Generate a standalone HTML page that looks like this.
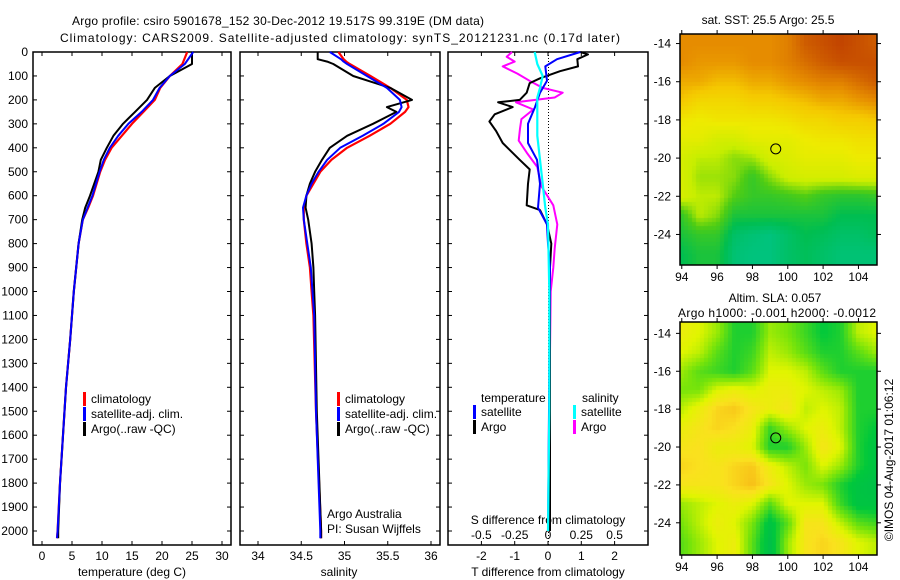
<!DOCTYPE html>
<html><head><meta charset="utf-8">
<style>
html,body{margin:0;padding:0;background:#fff;}
#root{position:relative;width:900px;height:580px;overflow:hidden;font-family:"Liberation Sans",Arial,sans-serif;}
svg text{font-family:"Liberation Sans",Arial,sans-serif;font-size:12px;fill:#000;}
canvas{position:absolute;}
</style></head>
<body>
<div id="root">
<canvas id="sstMap" width="197" height="231" style="left:680px;top:34px;"></canvas>
<canvas id="slaMap" width="197" height="233" style="left:680px;top:322px;"></canvas>
<svg id="fig" width="900" height="580" style="position:absolute;left:0;top:0">
<text x="72" y="25" textLength="412" lengthAdjust="spacing">Argo profile: csiro 5901678_152 30-Dec-2012 19.517S 99.319E (DM data)</text>
<text x="60" y="42" textLength="560" lengthAdjust="spacing">Climatology: CARS2009. Satellite-adjusted climatology: synTS_20121231.nc (0.17d later)</text>
<text x="768" y="24" text-anchor="middle">sat. SST: 25.5 Argo: 25.5</text>
<text x="775" y="302" text-anchor="middle">Altim. SLA: 0.057</text>
<text x="678" y="317" textLength="198" lengthAdjust="spacing">Argo h1000: -0.001 h2000: -0.0012</text>
<text transform="translate(893,460) rotate(-90)" text-anchor="middle">©IMOS 04-Aug-2017 01:06:12</text>
<text x="327" y="518">Argo Australia</text>
<text x="327" y="533">PI: Susan Wijffels</text>
<text x="548" y="524" text-anchor="middle">S difference from climatology</text>
<text x="132" y="576" text-anchor="middle">temperature (deg C)</text>
<text x="339" y="576" text-anchor="middle">salinity</text>
<text x="548" y="576" text-anchor="middle">T difference from climatology</text>
</svg>
</div>
<script>
// ---- data ----
const depthTicks=[0,100,200,300,400,500,600,700,800,900,1000,1100,1200,1300,1400,1500,1600,1700,1800,1900,2000];
const tempTicks=[0,5,10,15,20,25,30];
const salTicks=[34,34.5,35,35.5,36];
const salTickLabels=["34","34.5","35","35.5","36"];
const tdTicks=[-2,-1,0,1,2];
const sdTicks=[-0.5,-0.25,0,0.25,0.5];
const sdTickLabels=["-0.5","-0.25","0","0.25","0.5"];

const tDepth=[0,50,100,150,200,250,300,350,400,450,500,600,650,700,800,900,1000,1100,1200,1400,1600,1800,2000,2030];
const tClim=[24.2,23.4,21.3,19.7,18.8,16.9,15,13.3,11.6,10.5,9.7,8.5,7.7,6.8,6.1,5.7,5.3,5,4.7,4.0,3.5,3.0,2.6,2.5];
const tSat=[25.2,23.8,21.3,19.6,18.5,16.6,14.4,12.7,11.3,10.3,9.6,8.4,7.6,6.8,6.1,5.7,5.3,5,4.7,4.0,3.5,3.0,2.6,2.5];
const tArgo=[25,25,21.3,18.8,17.5,15.5,13.5,11.9,10.8,9.8,9.4,8,7.2,6.7,6.1,5.7,5.3,5,4.7,4.0,3.5,3.0,2.7,2.7];

const sDepth=[0,30,40,50,100,150,200,230,250,300,350,400,450,500,550,600,650,700,800,900,1000,1100,1500,2000,2030];
const sClim=[34.93,34.99,35.02,35.06,35.3,35.53,35.72,35.74,35.7,35.53,35.29,35.03,34.85,34.72,34.64,34.56,34.53,34.53,34.56,34.6,34.62,34.64,34.67,34.73,34.73];
const sSat=[34.83,34.96,34.99,35.03,35.26,35.49,35.64,35.66,35.63,35.45,35.21,34.95,34.8,34.7,34.62,34.56,34.52,34.53,34.57,34.61,34.63,34.65,34.67,34.72,34.72];
const sArgo=[34.69,34.69,34.8,34.87,35.1,35.53,35.78,35.49,35.6,35.33,35.03,34.83,34.74,34.66,34.6,34.56,34.55,34.58,34.62,34.64,34.65,34.66,34.68,34.73,34.73];

const dDepthT=[0,10,30,60,80,110,130,170,200,210,230,260,290,330,380,450,490,550,640,660,720,800,900,1500,2000];
const dTArgo=[0.97,1.2,0.88,0.9,0.36,-0.24,-0.55,-0.64,-0.85,-1.5,-1.06,-1.6,-1.76,-1.56,-1.36,-0.85,-0.55,-0.6,-0.64,-0.24,-0.03,0.1,0.06,0.06,0.06];
const dDepthTS=[0,30,60,120,170,230,300,380,450,550,650,720,800,900,1500,2000];
const dTSat=[0.97,0.27,-0.08,-0.03,-0.24,-0.39,-0.6,-0.6,-0.33,-0.24,-0.3,-0.03,0,0.06,0.03,0];
const dDepthS=[0,20,40,60,90,120,150,170,190,210,240,280,320,370,420,480,560,640,720,820,900,1000,1500,2000];
const dSArgo=[-0.27,-0.31,-0.25,-0.34,-0.23,-0.14,-0.04,0.11,0.05,-0.24,-0.11,-0.2,-0.21,-0.22,-0.16,-0.08,-0.05,0.04,0.07,0.05,0.04,0.02,0.01,0.01];
const dDepthSS=[0,50,100,150,190,250,350,450,550,650,720,1000,1500,2000];
const dSSat=[-0.1,-0.08,-0.04,-0.06,-0.08,-0.08,-0.08,-0.06,-0.04,-0.02,0,0.01,0.01,0.0];

const mapLons=[94,95,96,97,98,99,100,101,102,103,104,105];
const mapLats=[-14,-15,-16,-17,-18,-19,-20,-21,-22,-23,-24,-25];
const lonTicks=[94,96,98,100,102,104];
const latTicks=[-14,-16,-18,-20,-22,-24];
const sstGrid=[
[0.8,0.8,0.8,0.8,0.8,0.8,0.82,0.88,0.9,0.92,0.9,0.88],
[0.8,0.78,0.78,0.78,0.8,0.8,0.82,0.85,0.88,0.9,0.9,0.9],
[0.75,0.75,0.72,0.72,0.75,0.75,0.78,0.8,0.82,0.82,0.85,0.88],
[0.7,0.65,0.65,0.65,0.68,0.68,0.7,0.72,0.75,0.75,0.78,0.8],
[0.6,0.58,0.6,0.6,0.6,0.6,0.62,0.65,0.65,0.68,0.68,0.7],
[0.55,0.55,0.5,0.5,0.55,0.55,0.55,0.58,0.6,0.6,0.62,0.62],
[0.5,0.45,0.45,0.4,0.42,0.5,0.52,0.55,0.55,0.55,0.58,0.58],
[0.5,0.42,0.42,0.4,0.3,0.4,0.48,0.5,0.5,0.5,0.52,0.52],
[0.5,0.45,0.45,0.35,0.3,0.3,0.32,0.35,0.3,0.28,0.28,0.3],
[0.3,0.45,0.4,0.25,0.25,0.25,0.25,0.25,0.25,0.2,0.2,0.2],
[0.25,0.3,0.3,0.15,0.12,0.1,0.15,0.2,0.18,0.15,0.15,0.18],
[0.2,0.25,0.25,0.12,0.1,0.1,0.15,0.18,0.15,0.12,0.12,0.12]];
const slaGrid=[
[0.65,0.6,0.5,0.3,0.3,0.5,0.45,0.35,0.25,0.3,0.55,0.6],
[0.6,0.55,0.4,0.3,0.35,0.55,0.5,0.4,0.3,0.3,0.4,0.5],
[0.5,0.4,0.35,0.3,0.4,0.6,0.6,0.55,0.4,0.3,0.3,0.3],
[0.45,0.45,0.6,0.65,0.6,0.65,0.65,0.6,0.55,0.5,0.3,0.3],
[0.55,0.65,0.75,0.78,0.7,0.65,0.7,0.55,0.6,0.55,0.3,0.3],
[0.65,0.7,0.75,0.72,0.65,0.35,0.5,0.6,0.65,0.55,0.3,0.25],
[0.7,0.72,0.65,0.65,0.6,0.3,0.3,0.5,0.7,0.6,0.3,0.2],
[0.75,0.72,0.7,0.75,0.78,0.65,0.55,0.45,0.6,0.5,0.3,0.2],
[0.7,0.7,0.7,0.75,0.8,0.7,0.6,0.5,0.45,0.3,0.2,0.15],
[0.5,0.55,0.6,0.65,0.6,0.4,0.6,0.6,0.6,0.35,0.2,0.2],
[0.45,0.55,0.65,0.6,0.45,0.2,0.4,0.7,0.7,0.55,0.4,0.35],
[0.4,0.5,0.6,0.65,0.4,0.15,0.5,0.7,0.75,0.7,0.6,0.55]];
const floatLon=99.319, floatLat=-19.517;

// ---- drawing ----
const NS="http://www.w3.org/2000/svg";
const svg=document.getElementById('fig');
function el(tag,attrs,parent){const e=document.createElementNS(NS,tag);for(const k in attrs)e.setAttribute(k,attrs[k]);(parent||svg).appendChild(e);return e;}
const Y0=52,PY=0.2395,BOT=545;
const yD=d=>Y0+d*PY;
const panels=[
 {x0:33,x1:231,name:'temperature-panel',fx:v=>42+v*6},
 {x0:240,x1:440,name:'salinity-panel',fx:v=>258+(v-34)*86.5},
 {x0:448,x1:648,name:'difference-panel',fx:v=>548+v*33.3}
];
panels.forEach((p,i)=>{
 const r=el('rect',{x:p.x0,y:Y0,width:p.x1-p.x0,height:BOT-Y0,fill:'none',stroke:'#000','stroke-width':1.5});
 
 
 depthTicks.forEach(d=>{
  el('line',{x1:p.x0,x2:p.x0+4,y1:yD(d),y2:yD(d),stroke:'#000'});
  el('line',{x1:p.x1-4,x2:p.x1,y1:yD(d),y2:yD(d),stroke:'#000'});
 });
});
depthTicks.forEach(d=>{
 const t=el('text',{x:28,y:yD(d)+4,'text-anchor':'end'});t.textContent=d;
 
 
});
function xticks(p,ticks,labels,fx){
 ticks.forEach((v,i)=>{
  const x=fx(v);
  el('line',{x1:x,x2:x,y1:BOT,y2:BOT-4,stroke:'#000'});
  el('line',{x1:x,x2:x,y1:Y0,y2:Y0+4,stroke:'#000'});
  const t=el('text',{x:x,y:560,'text-anchor':'middle'});t.textContent=labels[i];
  
  
 });
}
xticks(panels[0],tempTicks,tempTicks.map(String),panels[0].fx);
xticks(panels[1],salTicks,salTickLabels,panels[1].fx);
xticks(panels[2],tdTicks,tdTicks.map(String),panels[2].fx);
sdTicks.forEach((v,i)=>{
 const x=548+v*4*33.3;
 const t=el('text',{x:x,y:539,'text-anchor':'middle'});t.textContent=sdTickLabels[i];
 
 
});
for(let y=Y0;y<BOT;y+=3) el('rect',{x:548,y:y,width:1,height:1,fill:'#000'});
function line(depths,vals,fx,color,w,name){
 const pts=depths.map((d,i)=>fx(vals[i]).toFixed(1)+','+yD(d).toFixed(1)).join(' ');
 const pl=el('polyline',{points:pts,fill:'none',stroke:color,'stroke-width':w,'stroke-linejoin':'round'});
 
 
}
const fT=panels[0].fx,fS=panels[1].fx,fD=panels[2].fx,fSD=v=>548+v*4*33.3;
line(tDepth,tClim,fT,'#f00',2.2,'temp-climatology-line');
line(tDepth,tArgo,fT,'#000',2,'temp-argo-line');
line(tDepth,tSat,fT,'#00f',2,'temp-satellite-line');
line(sDepth,sClim,fS,'#f00',2.2,'sal-climatology-line');
line(sDepth,sArgo,fS,'#000',2,'sal-argo-line');
line(sDepth,sSat,fS,'#00f',2,'sal-satellite-line');
line(dDepthS,dSArgo,fSD,'#f0f',2,'sdiff-argo-line');
line(dDepthT,dTArgo,fD,'#000',2,'tdiff-argo-line');
line(dDepthTS,dTSat,fD,'#00f',2,'tdiff-satellite-line');
line(dDepthSS,dSSat,fSD,'#0ff',2.2,'sdiff-satellite-line');
function legend(x,y,color,label){
 el('rect',{x:x,y:y-11,width:3,height:14,fill:color});
 const t=el('text',{x:x+8,y:y});t.textContent=label;
 
 
}
[[83,'#f00','climatology'],[83,'#00f','satellite-adj. clim.'],[83,'#000','Argo(..raw -QC)']].forEach((l,i)=>legend(l[0],403+i*15,l[1],l[2]));
[[337,'#f00','climatology'],[337,'#00f','satellite-adj. clim.'],[337,'#000','Argo(..raw -QC)']].forEach((l,i)=>legend(l[0],403+i*15,l[1],l[2]));
let tt=el('text',{x:481,y:402});tt.textContent='temperature';
tt=el('text',{x:582,y:402});tt.textContent='salinity';
legend(473,416,'#00f','satellite');legend(473,431,'#000','Argo');
legend(573,416,'#0ff','satellite');legend(573,431,'#f0f','Argo');

function cmapSST(v){
 const st=[[0,[0,200,170]],[0.2,[0,190,80]],[0.35,[80,205,20]],[0.46,[200,238,0]],[0.58,[238,235,0]],[0.7,[245,200,0]],[0.8,[230,140,0]],[0.9,[200,80,0]],[1,[170,20,0]]];
 return interpC(st,v);
}
function cmapSLA(v){
 const st=[[0,[0,180,90]],[0.25,[0,200,60]],[0.45,[120,228,10]],[0.6,[225,245,0]],[0.72,[250,225,30]],[0.85,[245,170,20]],[1,[230,120,0]]];
 return interpC(st,v);
}
function interpC(st,v){
 v=Math.max(0,Math.min(1,v));
 for(let i=1;i<st.length;i++){if(v<=st[i][0]){const a=st[i-1],b=st[i],t=(v-a[0])/(b[0]-a[0]);return a[1].map((c,k)=>Math.round(c+(b[1][k]-c)*t));}}
 return st[st.length-1][1];
}
function bil(grid,lon,lat){
 let fx=(lon-mapLons[0]),fy=(mapLats[0]-lat);
 fx=Math.max(0,Math.min(mapLons.length-1.001,fx));fy=Math.max(0,Math.min(mapLats.length-1.001,fy));
 const i=Math.floor(fy),j=Math.floor(fx),tx=fx-j,ty=fy-i;
 return grid[i][j]*(1-tx)*(1-ty)+grid[i][j+1]*tx*(1-ty)+grid[i+1][j]*(1-tx)*ty+grid[i+1][j+1]*tx*ty;
}
function drawMap(id,grid,cmap,lat0,lat1,top,h){
 const c=document.getElementById(id),ctx=c.getContext('2d');
 const W=197,lon0=93.9,lon1=105.05,B=4;
 for(let y=0;y<h;y+=B)for(let x=0;x<W;x+=B){
  const lon=lon0+(x+B/2)/W*(lon1-lon0),lat=lat0+(y+B/2)/h*(lat1-lat0);
  const col=cmap(bil(grid,lon,lat));ctx.fillStyle='rgb('+col.join(',')+')';ctx.fillRect(x,y,B,B);
 }
 const L=680;
 el('rect',{x:L,y:top,width:W,height:h,fill:'none',stroke:'#000','stroke-width':1.5});
 const px=lon=>L+(lon-lon0)/(lon1-lon0)*W, py=lat=>top+(lat-lat0)/(lat1-lat0)*h;
 lonTicks.forEach(v=>{el('line',{x1:px(v),x2:px(v),y1:top+h,y2:top+h+4,stroke:'#000'});el('line',{x1:px(v),x2:px(v),y1:top,y2:top-4,stroke:'#000'});
  const t=el('text',{x:px(v),y:top+h+16,'text-anchor':'middle'});t.textContent=v;
  
  });
 latTicks.forEach(v=>{el('line',{x1:L-4,x2:L,y1:py(v),y2:py(v),stroke:'#000'});el('line',{x1:L+W,x2:L+W+4,y1:py(v),y2:py(v),stroke:'#000'});
  const t=el('text',{x:671,y:py(v)+4,'text-anchor':'end'});t.textContent=v;
  
  });
 const m=el('circle',{cx:px(floatLon),cy:py(floatLat),r:5,fill:'none',stroke:'#000','stroke-width':1});
 
 
}
drawMap('sstMap',sstGrid,cmapSST,-13.5,-25.6,34,231);
drawMap('slaMap',slaGrid,cmapSLA,-13.4,-25.7,322,233);
</script>
</body></html>
